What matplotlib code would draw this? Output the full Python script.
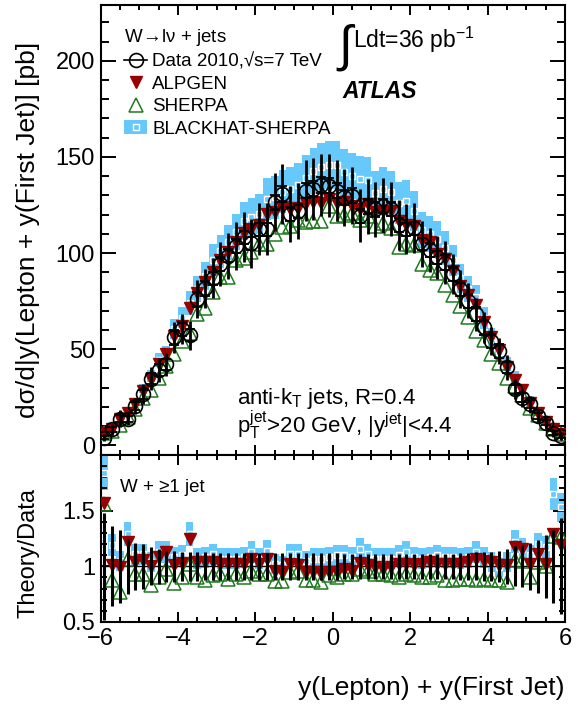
import numpy as np
import matplotlib.pyplot as plt
from matplotlib.lines import Line2D
from matplotlib.patches import Patch
from matplotlib.ticker import MultipleLocator

plt.rcParams['font.family'] = ['Liberation Sans', 'DejaVu Sans']
plt.rcParams['mathtext.fontset'] = 'custom'
plt.rcParams['mathtext.rm'] = 'Liberation Sans'
plt.rcParams['mathtext.it'] = 'Liberation Sans:italic'
plt.rcParams['mathtext.bf'] = 'Liberation Sans:bold'

# 60 bins of width 0.2 from -6 to 6
edges = np.linspace(-6, 6, 61)
centers = 0.5 * (edges[:-1] + edges[1:])

# measured cross section [pb]
data = [4.0, 8.3, 13.9, 13.9, 20.5, 26.6, 34.7, 39.2, 42.2, 56.1,
        60.4, 57.3, 76.0, 81.6, 86.8, 94.3, 98.6, 103.8, 108.2, 105.0,
        112.5, 112.5, 126.4, 130.7, 120.3, 122.0, 132.5, 133.3, 135.4, 135.1,
        132.5, 129.0, 129.9, 119.4, 124.3, 122.7, 124.6, 122.9, 114.6, 112.5,
        113.0, 104.7, 101.6, 97.7, 95.1, 89.1, 81.2, 75.2, 68.2, 61.3,
        54.3, 49.1, 40.5, 29.2, 24.8, 21.4, 15.3, 11.8, 6.6, 4.8]
# relative total uncertainty of data
data_err = [0.48, 0.36, 0.33, 0.25, 0.21, 0.20, 0.17, 0.16, 0.14, 0.14,
            0.13, 0.13, 0.13, 0.125, 0.12, 0.12, 0.12, 0.12, 0.12, 0.12,
            0.12, 0.12, 0.12, 0.12, 0.12, 0.12, 0.12, 0.12, 0.12, 0.12,
            0.12, 0.115, 0.115, 0.115, 0.115, 0.115, 0.115, 0.115, 0.115, 0.115,
            0.115, 0.115, 0.115, 0.115, 0.115, 0.115, 0.12, 0.12, 0.125, 0.13,
            0.13, 0.14, 0.16, 0.18, 0.19, 0.21, 0.24, 0.28, 0.33, 0.43]
# relative statistical uncertainty of data
data_stat = [0.20, 0.15, 0.12, 0.11, 0.10, 0.09, 0.08, 0.075, 0.07, 0.065,
             0.06, 0.055, 0.05, 0.045, 0.04, 0.04, 0.035, 0.035, 0.03, 0.03,
             0.03, 0.03, 0.03, 0.03, 0.03, 0.03, 0.03, 0.03, 0.03, 0.03,
             0.03, 0.03, 0.03, 0.03, 0.03, 0.03, 0.03, 0.03, 0.03, 0.03,
             0.03, 0.03, 0.035, 0.035, 0.04, 0.04, 0.045, 0.05, 0.055, 0.06,
             0.065, 0.07, 0.075, 0.08, 0.09, 0.10, 0.11, 0.12, 0.15, 0.20]

# theory / data ratios
alpgen_ratio = [1.57, 1.01, 0.99, 1.22, 1.04, 1.06, 1.00, 1.08, 1.13, 1.01,
                1.03, 1.25, 1.04, 1.04, 1.04, 1.02, 1.02, 1.02, 1.02, 1.07,
                1.02, 1.07, 0.96, 0.95, 1.02, 1.01, 0.95, 0.95, 0.93, 0.95,
                0.95, 0.98, 0.96, 1.03, 1.01, 0.99, 0.98, 0.99, 1.02, 1.02,
                1.01, 1.02, 1.04, 1.02, 1.02, 1.02, 1.02, 1.04, 1.07, 1.05,
                1.04, 1.01, 1.01, 1.17, 1.16, 1.02, 1.11, 1.02, 1.29, 1.19]
sherpa_ratio = [1.56, 0.875, 0.77, 1.07, 0.93, 0.93, 0.83, 0.90, 0.98, 0.85,
                0.90, 1.02, 0.90, 0.875, 0.92, 0.93, 0.89, 0.93, 0.90, 0.96,
                0.93, 0.93, 0.87, 0.87, 0.95, 0.96, 0.875, 0.875, 0.86, 0.92,
                0.90, 0.93, 0.93, 0.98, 0.96, 0.93, 0.93, 0.92, 0.90, 0.93,
                0.92, 0.90, 0.90, 0.92, 0.875, 0.875, 0.89, 0.89, 0.875, 0.89,
                0.875, 0.875, 0.86, 1.06, 1.05, 0.90, 1.04, 1.00, 1.27, 1.26]
blackhat_ratio = [1.84, 1.19, 1.05, 1.29, 1.11, 1.11, 1.04, 1.13, 1.13, 1.08,
                  1.10, 1.29, 1.07, 1.08, 1.11, 1.07, 1.07, 1.07, 1.08, 1.13,
                  1.07, 1.14, 1.02, 1.01, 1.11, 1.11, 1.05, 1.07, 1.07, 1.08,
                  1.10, 1.10, 1.08, 1.16, 1.11, 1.07, 1.07, 1.07, 1.10, 1.13,
                  1.08, 1.07, 1.08, 1.10, 1.08, 1.08, 1.07, 1.08, 1.13, 1.08,
                  1.04, 0.99, 1.04, 1.22, 1.16, 1.10, 1.20, 1.17, 1.65, 1.53]
# relative half-width of the BLACKHAT-SHERPA band
blackhat_unc = [0.085] * 60

data = np.array(data)
alpgen = data * np.array(alpgen_ratio)
sherpa = data * np.array(sherpa_ratio)
blackhat = data * np.array(blackhat_ratio)
bh_rel = np.array(blackhat_unc)

c_band = '#66c8fb'
c_alp = '#990000'
c_sher = '#1f7a1f'

W, H = 588, 707
fig = plt.figure(figsize=(W / 100, H / 100), dpi=100)
left, right = 100.5 / W, 565 / W
ax = fig.add_axes([left, 1 - 455 / H, right - left, 450 / H])
axr = fig.add_axes([left, 1 - 622 / H, right - left, 167 / H])


def draw(a, bh_vals, alp_vals, sher_vals):
    a.bar(centers, 2 * bh_rel * bh_vals, bottom=bh_vals * (1 - bh_rel), width=0.2,
          color=c_band, linewidth=0, zorder=1)
    a.plot(centers, bh_vals, 's', ms=4.5, mfc='none', mec='white', mew=1.0, zorder=2)
    a.plot(centers, sher_vals, '^', ms=9.5, mfc='none', mec=c_sher, mew=1.1, zorder=3)
    a.plot(centers, alp_vals, 'v', ms=8.5, color=c_alp, mec=c_alp, zorder=4)


draw(ax, blackhat, alpgen, sherpa)
ax.errorbar(centers, data, yerr=data * np.array(data_err), fmt='none', ecolor='k',
            elinewidth=2.0, zorder=5)
ax.errorbar(centers, data, yerr=data * np.array(data_stat), fmt='none', ecolor='k',
            elinewidth=0, capsize=3.5, capthick=1.3, zorder=5)
ax.plot(centers, data, 'o', ms=10, mfc='none', mec='k', mew=1.2, zorder=6)

draw(axr, np.array(blackhat_ratio), np.array(alpgen_ratio), np.array(sherpa_ratio))
axr.axhline(1.0, color='k', lw=1.0, zorder=2.5)
axr.errorbar(centers, np.ones(60), yerr=data_err, fmt='none', ecolor='k',
             elinewidth=2.2, zorder=5)

ax.set_xlim(-6, 6)
ax.set_ylim(-5, 229)
axr.set_xlim(-6, 6)
axr.set_ylim(0.5, 2.0)

for a in (ax, axr):
    a.xaxis.set_major_locator(MultipleLocator(2))
    a.xaxis.set_minor_locator(MultipleLocator(0.5))
    a.tick_params(which='both', direction='in', top=True, right=True, width=1.4,
                  labelsize=17, pad=4)
    a.tick_params(axis='x', which='major', length=7.2)
    a.tick_params(axis='x', which='minor', length=3.6)
    for s in a.spines.values():
        s.set_linewidth(1.5)

ax.yaxis.set_major_locator(MultipleLocator(50))
ax.yaxis.set_minor_locator(MultipleLocator(10))
ax.tick_params(axis='y', which='major', length=10.8)
ax.tick_params(axis='y', which='minor', length=5.8)
ax.tick_params(axis='x', labelbottom=False)

axr.set_yticks([0.5, 1.0, 1.5])
axr.set_yticklabels(['0.5', '1', '1.5'])
axr.yaxis.set_minor_locator(MultipleLocator(0.1))
axr.tick_params(axis='y', which='major', length=8.6)
axr.tick_params(axis='y', which='minor', length=4.3)

# legend
h_data = Line2D([], [], color='k', marker='o', ms=10, mfc='none', mew=1.2, lw=1.2)
h_alp = Line2D([], [], ls='none', marker='v', ms=8.5, color=c_alp)
h_sher = Line2D([], [], ls='none', marker='^', ms=9.5, mfc='none', mec=c_sher, mew=1.1)
h_bh = (Patch(fc=c_band, lw=0),
        Line2D([], [], ls='none', marker='s', ms=4.5, mfc='none', mec='white', mew=1.0))
leg = ax.legend([h_data, h_alp, h_sher, h_bh],
                ['Data 2010,√s=7 TeV', 'ALPGEN', 'SHERPA', 'BLACKHAT-SHERPA'],
                title='W$\\!\\rightarrow\\!$lν + jets', title_fontsize=13.5, fontsize=13.5,
                loc='upper left', bbox_to_anchor=(0.035, 0.968), frameon=False,
                alignment='left', handlelength=1.2, handletextpad=0.3,
                labelspacing=0.28, borderaxespad=0)

fig.text(338 / W, 1 - 47 / H, '∫', fontsize=36, ha='left', va='center')
fig.text(353 / W, 1 - 48 / H, 'Ldt=36 pb$^{-1}$', fontsize=16.5, ha='left', va='baseline')
fig.text(342 / W, 1 - 98 / H, 'ATLAS', fontsize=16.5, fontweight='bold', fontstyle='italic',
         ha='left', va='baseline')
fig.text(237 / W, 1 - 404 / H, 'anti-k$_\\mathrm{T}$ jets, R=0.4', fontsize=16,
         ha='left', va='baseline')
fig.text(237 / W, 1 - 433 / H,
         '$\\mathrm{p}_\\mathrm{T}^\\mathrm{jet}$>20 GeV, |y$^\\mathrm{jet}$|<4.4',
         fontsize=16, ha='left', va='baseline')
fig.text(120 / W, 1 - 492 / H, 'W + ≥1 jet', fontsize=13.5, ha='left', va='baseline')

fig.text(565 / W, 1 - 688 / H, 'y(Lepton) + y(First Jet)', fontsize=19, ha='right',
         va='center')
fig.text(28 / W, 1 - 230 / H, 'dσ/d|y(Lepton + y(First Jet)] [pb]', fontsize=19,
         rotation=90, ha='center', va='center')
fig.text(28 / W, 1 - 553 / H, 'Theory/Data', fontsize=17, rotation=90, ha='center',
         va='center')

fig.savefig('out.png', dpi=100)
